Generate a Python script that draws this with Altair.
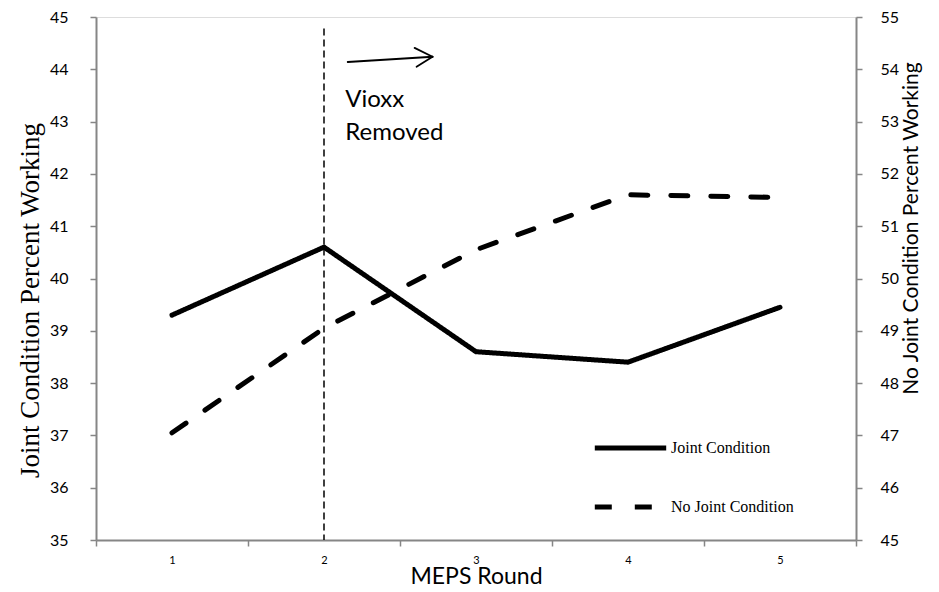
import altair as alt
import pandas as pd

rounds = [1, 2, 3, 4, 5]
joint = [39.3, 40.6, 38.6, 38.4, 39.45]
no_joint = [47.05, 49.05, 50.55, 51.6, 51.55]
series = ["Joint Condition", "No Joint Condition"]
x_tick_values = [0.5, 1, 1.5, 2, 2.5, 3, 3.5, 4, 4.5, 5, 5.5]
left_ticks = list(range(35, 46))
right_ticks = list(range(45, 56))
vioxx_round = 2
note_lines = ["Vioxx", "Removed"]

df_j = pd.DataFrame({"round": rounds, "value": joint, "series": series[0]})
df_n = pd.DataFrame({"round": rounds, "value": no_joint, "series": series[1]})

GRAY = "#868686"
SANS = "Lato"
SERIF = "Liberation Serif"

xscale = alt.Scale(domain=[0.5, 5.5], nice=False, zero=False)
xaxis = alt.Axis(
    values=x_tick_values,
    labelExpr="datum.value % 1 === 0 ? format(datum.value, 'd') : ''",
    tickOpacity={"condition": {"test": "datum.value % 1 === 0", "value": 0}, "value": 1},
    title="MEPS Round",
    titleFont=SANS, titleFontSize=23, titleFontWeight="normal", titleColor="black",
    titlePadding=0,
    labelFont=SANS, labelFontSize=11, labelColor="black", labelPadding=8,
    labelOverlap=False, grid=False,
    domainColor=GRAY, domainWidth=2, tickColor=GRAY, tickSize=6, tickWidth=1.5,
)
left_scale = alt.Scale(domain=[35, 45], nice=False, zero=False)
right_scale = alt.Scale(domain=[45, 55], nice=False, zero=False)

common_y = dict(
    titleFontWeight="normal", titleColor="black", titleBaseline="middle", titleAlign="center",
    labelFont=SANS, labelFontSize=16, labelColor="black",
    grid=False, domainColor=GRAY, domainWidth=2, tickColor=GRAY, tickSize=6,
    tickWidth=1.5, format="d",
)
left_axis = alt.Axis(
    orient="left", values=left_ticks, title="Joint Condition Percent Working",
    titleFont=SERIF, titleFontSize=27, titleAngle=270, titleX=-66, titleY=283,
    labelPadding=22, **common_y
)
right_axis = alt.Axis(
    orient="right", values=right_ticks, title="No Joint Condition Percent Working",
    titleFont=SANS, titleFontSize=21, titleAngle=270, titleX=55, titleY=211,
    labelPadding=18, **common_y
)

dash_scale = alt.Scale(domain=series, range=[[1, 0], [17, 23]])
legend = alt.Legend(
    orient="none", legendX=496, legendY=420, title=None,
    symbolType="stroke", symbolSize=5100, symbolStrokeWidth=5, symbolStrokeColor="black",
    labelFont=SERIF, labelFontSize=16, labelColor="black", labelOffset=2,
    rowPadding=37, clipHeight=22,
)

x_enc = alt.X("round:Q", scale=xscale, axis=xaxis)

joint_line = alt.Chart(df_j).mark_line(color="black", strokeWidth=5, strokeCap="round").encode(
    x=x_enc,
    y=alt.Y("value:Q", scale=left_scale, axis=left_axis),
    strokeDash=alt.StrokeDash("series:N", scale=dash_scale, legend=legend),
)

vline_df = pd.DataFrame({"round": [vioxx_round], "top": [44.78], "bottom": [35]})
vline = alt.Chart(vline_df).mark_rule(color="black", strokeWidth=1.5, strokeDash=[7, 4]).encode(
    x="round:Q", y="top:Q", y2="bottom:Q"
)

arrow_df = pd.DataFrame({
    "x": [2.156, 2.714, 2.714],
    "x2": [2.714, 2.596, 2.609],
    "y": [44.14, 44.24, 44.24],
    "y2": [44.24, 44.41, 44.05],
})
arrow = alt.Chart(arrow_df).mark_rule(color="black", strokeWidth=1.8, strokeCap="round").encode(
    x="x:Q", x2="x2:Q", y="y:Q", y2="y2:Q"
)

note_df = pd.DataFrame({"round": [2.14], "value": [43.28], "label": [note_lines]})
note = alt.Chart(note_df).mark_text(
    align="left", baseline="alphabetic", font=SANS, fontSize=24, lineHeight=33, color="black"
).encode(x="round:Q", y="value:Q", text="label")

left_layer = alt.layer(vline, arrow, note, joint_line)

no_joint_line = alt.Chart(df_n).mark_line(color="black", strokeWidth=5, strokeCap="round").encode(
    x=x_enc,
    y=alt.Y("value:Q", scale=right_scale, axis=right_axis),
    strokeDash=alt.StrokeDash("series:N", scale=dash_scale, legend=legend),
)

chart = alt.layer(left_layer, no_joint_line).resolve_scale(y="independent").properties(
    width=760, height=523,
    autosize=alt.AutoSizeParams(type="none"),
    padding={"left": 88, "top": 9, "right": 75, "bottom": 52},
).configure_view(stroke=None).configure(background="white")

chart.save("out.html", embed_options={"renderer": "svg", "actions": False})
